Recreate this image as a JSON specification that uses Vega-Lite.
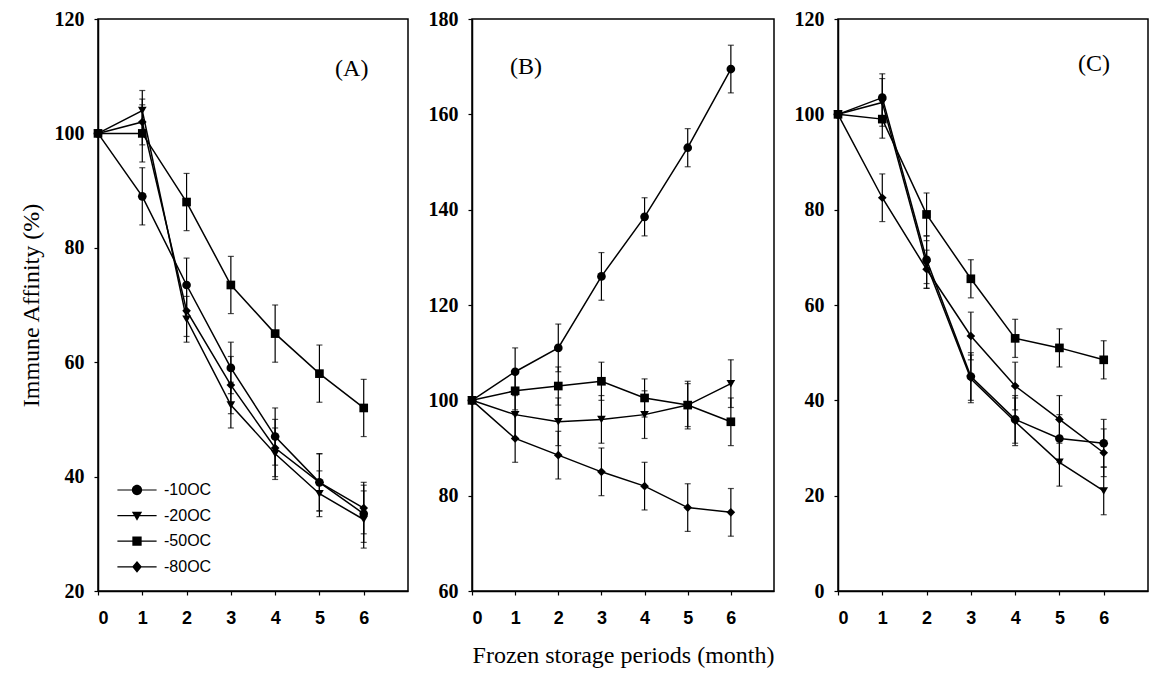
{
  "$schema": "https://vega.github.io/schema/vega-lite/v6.json",
  "padding": {"left": 18, "top": 8, "right": 0, "bottom": 0},
  "background": "white",
  "datasets": {
    "d": [
      {"p":"A","s":"-10OC","m":0,"v":100,"e":0},{"p":"A","s":"-10OC","m":1,"v":89,"e":5},{"p":"A","s":"-10OC","m":2,"v":73.5,"e":4.7},{"p":"A","s":"-10OC","m":3,"v":59,"e":4.5},{"p":"A","s":"-10OC","m":4,"v":47,"e":5},{"p":"A","s":"-10OC","m":5,"v":39,"e":5},{"p":"A","s":"-10OC","m":6,"v":33.5,"e":5},
      {"p":"A","s":"-20OC","m":0,"v":100,"e":0},{"p":"A","s":"-20OC","m":1,"v":104,"e":3.5},{"p":"A","s":"-20OC","m":2,"v":67.5,"e":4},{"p":"A","s":"-20OC","m":3,"v":52.5,"e":4},{"p":"A","s":"-20OC","m":4,"v":44,"e":4.5},{"p":"A","s":"-20OC","m":5,"v":37,"e":4},{"p":"A","s":"-20OC","m":6,"v":32.5,"e":5},
      {"p":"A","s":"-50OC","m":0,"v":100,"e":0},{"p":"A","s":"-50OC","m":1,"v":100,"e":5},{"p":"A","s":"-50OC","m":2,"v":88,"e":5},{"p":"A","s":"-50OC","m":3,"v":73.5,"e":5},{"p":"A","s":"-50OC","m":4,"v":65,"e":5},{"p":"A","s":"-50OC","m":5,"v":58,"e":5},{"p":"A","s":"-50OC","m":6,"v":52,"e":5},
      {"p":"A","s":"-80OC","m":0,"v":100,"e":0},{"p":"A","s":"-80OC","m":1,"v":102,"e":4},{"p":"A","s":"-80OC","m":2,"v":69,"e":4.5},{"p":"A","s":"-80OC","m":3,"v":56,"e":5},{"p":"A","s":"-80OC","m":4,"v":45,"e":5},{"p":"A","s":"-80OC","m":5,"v":39,"e":5},{"p":"A","s":"-80OC","m":6,"v":34.5,"e":4.5},
      {"p":"B","s":"-10OC","m":0,"v":100,"e":0},{"p":"B","s":"-10OC","m":1,"v":106,"e":5},{"p":"B","s":"-10OC","m":2,"v":111,"e":5},{"p":"B","s":"-10OC","m":3,"v":126,"e":5},{"p":"B","s":"-10OC","m":4,"v":138.5,"e":4},{"p":"B","s":"-10OC","m":5,"v":153,"e":4},{"p":"B","s":"-10OC","m":6,"v":169.5,"e":5},
      {"p":"B","s":"-20OC","m":0,"v":100,"e":0},{"p":"B","s":"-20OC","m":1,"v":97,"e":5},{"p":"B","s":"-20OC","m":2,"v":95.5,"e":5},{"p":"B","s":"-20OC","m":3,"v":96,"e":5},{"p":"B","s":"-20OC","m":4,"v":97,"e":5},{"p":"B","s":"-20OC","m":5,"v":99,"e":5},{"p":"B","s":"-20OC","m":6,"v":103.5,"e":5},
      {"p":"B","s":"-50OC","m":0,"v":100,"e":0},{"p":"B","s":"-50OC","m":1,"v":102,"e":4},{"p":"B","s":"-50OC","m":2,"v":103,"e":4},{"p":"B","s":"-50OC","m":3,"v":104,"e":4},{"p":"B","s":"-50OC","m":4,"v":100.5,"e":4},{"p":"B","s":"-50OC","m":5,"v":99,"e":4.5},{"p":"B","s":"-50OC","m":6,"v":95.5,"e":5},
      {"p":"B","s":"-80OC","m":0,"v":100,"e":0},{"p":"B","s":"-80OC","m":1,"v":92,"e":5},{"p":"B","s":"-80OC","m":2,"v":88.5,"e":5},{"p":"B","s":"-80OC","m":3,"v":85,"e":5},{"p":"B","s":"-80OC","m":4,"v":82,"e":5},{"p":"B","s":"-80OC","m":5,"v":77.5,"e":5},{"p":"B","s":"-80OC","m":6,"v":76.5,"e":5},
      {"p":"C","s":"-10OC","m":0,"v":100,"e":0},{"p":"C","s":"-10OC","m":1,"v":103.5,"e":5},{"p":"C","s":"-10OC","m":2,"v":69.5,"e":5},{"p":"C","s":"-10OC","m":3,"v":45,"e":5},{"p":"C","s":"-10OC","m":4,"v":36,"e":5},{"p":"C","s":"-10OC","m":5,"v":32,"e":5},{"p":"C","s":"-10OC","m":6,"v":31,"e":5},
      {"p":"C","s":"-20OC","m":0,"v":100,"e":0},{"p":"C","s":"-20OC","m":1,"v":102.5,"e":5},{"p":"C","s":"-20OC","m":2,"v":68.5,"e":5},{"p":"C","s":"-20OC","m":3,"v":44.5,"e":5},{"p":"C","s":"-20OC","m":4,"v":35.5,"e":5},{"p":"C","s":"-20OC","m":5,"v":27,"e":5},{"p":"C","s":"-20OC","m":6,"v":21,"e":5},
      {"p":"C","s":"-50OC","m":0,"v":100,"e":0},{"p":"C","s":"-50OC","m":1,"v":99,"e":4},{"p":"C","s":"-50OC","m":2,"v":79,"e":4.5},{"p":"C","s":"-50OC","m":3,"v":65.5,"e":4},{"p":"C","s":"-50OC","m":4,"v":53,"e":4},{"p":"C","s":"-50OC","m":5,"v":51,"e":4},{"p":"C","s":"-50OC","m":6,"v":48.5,"e":4},
      {"p":"C","s":"-80OC","m":0,"v":100,"e":0},{"p":"C","s":"-80OC","m":1,"v":82.5,"e":5},{"p":"C","s":"-80OC","m":2,"v":67.5,"e":4},{"p":"C","s":"-80OC","m":3,"v":53.5,"e":5},{"p":"C","s":"-80OC","m":4,"v":43,"e":5},{"p":"C","s":"-80OC","m":5,"v":36,"e":5},{"p":"C","s":"-80OC","m":6,"v":29,"e":5}
    ]
  },
  "config": {
    "view": {"stroke": "black", "strokeWidth": 1.5},
    "axis": {"grid": false, "domainColor": "black", "domainWidth": 1.5, "tickColor": "black", "tickWidth": 1.2, "tickSize": 4, "labelColor": "black", "titleColor": "black", "labelFont": "Liberation Serif", "labelFontWeight": "bold", "labelFontSize": 20, "titleFont": "Liberation Serif", "titleFontSize": 24, "titleFontWeight": "normal"},
    "axisX": {"labelFont": "Liberation Sans", "labelFontSize": 18, "labelPadding": 14, "titlePadding": 16},
    "axisY": {"labelPadding": 10},
    "concat": {"spacing": 18}
  },
  "resolve": {"scale": {"shape": "independent"}, "legend": {"shape": "independent"}},
  "hconcat": [
    {
      "width": 310, "height": 572,
      "resolve": {"scale": {"shape": "independent"}, "legend": {"shape": "independent"}},
      "encoding": {
        "x": {"field": "m", "type": "quantitative", "scale": {"domain": [0, 7], "nice": false}, "axis": {"values": [0,1,2,3,4,5,6], "format": "d", "title": null}},
        "y": {"field": "v", "type": "quantitative", "scale": {"domain": [20, 120], "nice": false, "zero": false}, "axis": {"values": [20,40,60,80,100,120], "title": "Immune Affinity (%)", "titlePadding": 11}}
      },
      "layer": [
        {"data": {"name": "d"}, "transform": [{"filter": "datum.p === 'A'"}], "mark": {"type": "errorbar", "color": "black", "thickness": 1.2, "ticks": {"size": 6}}, "encoding": {"yError": {"field": "e"}}},
        {"data": {"name": "d"}, "transform": [{"filter": "datum.p === 'A'"}], "mark": {"type": "line", "color": "black", "strokeWidth": 1.5}, "encoding": {"detail": {"field": "s"}}},
        {"data": {"name": "d"}, "transform": [{"filter": "datum.p === 'A'"}], "mark": {"type": "point", "filled": true, "color": "black", "size": 75, "opacity": 1},
          "encoding": {"shape": {"field": "s", "type": "nominal", "scale": {"domain": ["-10OC","-20OC","-50OC","-80OC"], "range": ["circle","triangle-down","square","diamond"]}, "legend": null}}},
        {"data": {"name": "d"}, "transform": [{"filter": "datum.p === 'none'"}], "mark": {"type": "point", "filled": true, "color": "black", "opacity": 1},
          "encoding": {"shape": {"field": "s", "type": "nominal",
            "scale": {"domain": ["-10OC","-20OC","-50OC","-80OC"], "range": ["M-1.6,-0.05H1.6V0.05H-1.6ZM-0.42,0A0.42,0.42,0,1,1,0.42,0A0.42,0.42,0,1,1,-0.42,0Z", "M-1.6,-0.05H1.6V0.05H-1.6ZM-0.42,-0.32L0.42,-0.32L0,0.42Z", "M-1.6,-0.05H1.6V0.05H-1.6ZM-0.38,-0.38H0.38V0.38H-0.38Z", "M-1.6,-0.05H1.6V0.05H-1.6ZM0,-0.48L0.4,0L0,0.48L-0.4,0Z"]},
            "legend": {"title": null, "orient": "none", "legendX": 26, "legendY": 458, "symbolSize": 600, "symbolFillColor": "black", "symbolStrokeColor": "black", "symbolStrokeWidth": 1, "symbolOpacity": 1, "labelFont": "Liberation Sans", "labelFontSize": 16, "labelColor": "black", "labelOffset": 14, "rowPadding": 4.6, "padding": 0}}}},
        {"data": {"name": "d"}, "transform": [{"filter": "datum.p === 'A' && datum.m === 0 && datum.s === '-10OC'"}], "mark": {"type": "text", "text": "(A)", "font": "Liberation Serif", "fontSize": 24, "color": "black", "align": "center", "baseline": "middle"}, "encoding": {"x": {"datum": 5.73}, "y": {"datum": 111.3}}}
      ]
    },
    {
      "width": 302, "height": 572,
      "encoding": {
        "x": {"field": "m", "type": "quantitative", "scale": {"domain": [0, 7], "nice": false}, "axis": {"values": [0,1,2,3,4,5,6], "format": "d", "title": "Frozen storage periods (month)"}},
        "y": {"field": "v", "type": "quantitative", "scale": {"domain": [60, 180], "nice": false, "zero": false}, "axis": {"values": [60,80,100,120,140,160,180], "title": null}}
      },
      "layer": [
        {"data": {"name": "d"}, "transform": [{"filter": "datum.p === 'B'"}], "mark": {"type": "errorbar", "color": "black", "thickness": 1.2, "ticks": {"size": 6}}, "encoding": {"yError": {"field": "e"}}},
        {"data": {"name": "d"}, "transform": [{"filter": "datum.p === 'B'"}], "mark": {"type": "line", "color": "black", "strokeWidth": 1.5}, "encoding": {"detail": {"field": "s"}}},
        {"data": {"name": "d"}, "transform": [{"filter": "datum.p === 'B'"}], "mark": {"type": "point", "filled": true, "color": "black", "size": 75, "opacity": 1},
          "encoding": {"shape": {"field": "s", "type": "nominal", "scale": {"domain": ["-10OC","-20OC","-50OC","-80OC"], "range": ["circle","triangle-down","square","diamond"]}, "legend": null}}},
        {"data": {"name": "d"}, "transform": [{"filter": "datum.p === 'B' && datum.m === 0 && datum.s === '-10OC'"}], "mark": {"type": "text", "text": "(B)", "font": "Liberation Serif", "fontSize": 24, "color": "black", "align": "center", "baseline": "middle"}, "encoding": {"x": {"datum": 1.25}, "y": {"datum": 170}}}
      ]
    },
    {
      "width": 310, "height": 572,
      "encoding": {
        "x": {"field": "m", "type": "quantitative", "scale": {"domain": [0, 7], "nice": false}, "axis": {"values": [0,1,2,3,4,5,6], "format": "d", "title": null}},
        "y": {"field": "v", "type": "quantitative", "scale": {"domain": [0, 120], "nice": false}, "axis": {"values": [0,20,40,60,80,100,120], "title": null}}
      },
      "layer": [
        {"data": {"name": "d"}, "transform": [{"filter": "datum.p === 'C'"}], "mark": {"type": "errorbar", "color": "black", "thickness": 1.2, "ticks": {"size": 6}}, "encoding": {"yError": {"field": "e"}}},
        {"data": {"name": "d"}, "transform": [{"filter": "datum.p === 'C'"}], "mark": {"type": "line", "color": "black", "strokeWidth": 1.5}, "encoding": {"detail": {"field": "s"}}},
        {"data": {"name": "d"}, "transform": [{"filter": "datum.p === 'C'"}], "mark": {"type": "point", "filled": true, "color": "black", "size": 75, "opacity": 1},
          "encoding": {"shape": {"field": "s", "type": "nominal", "scale": {"domain": ["-10OC","-20OC","-50OC","-80OC"], "range": ["circle","triangle-down","square","diamond"]}, "legend": null}}},
        {"data": {"name": "d"}, "transform": [{"filter": "datum.p === 'C' && datum.m === 0 && datum.s === '-10OC'"}], "mark": {"type": "text", "text": "(C)", "font": "Liberation Serif", "fontSize": 24, "color": "black", "align": "center", "baseline": "middle"}, "encoding": {"x": {"datum": 5.78}, "y": {"datum": 110.5}}}
      ]
    }
  ]
}
